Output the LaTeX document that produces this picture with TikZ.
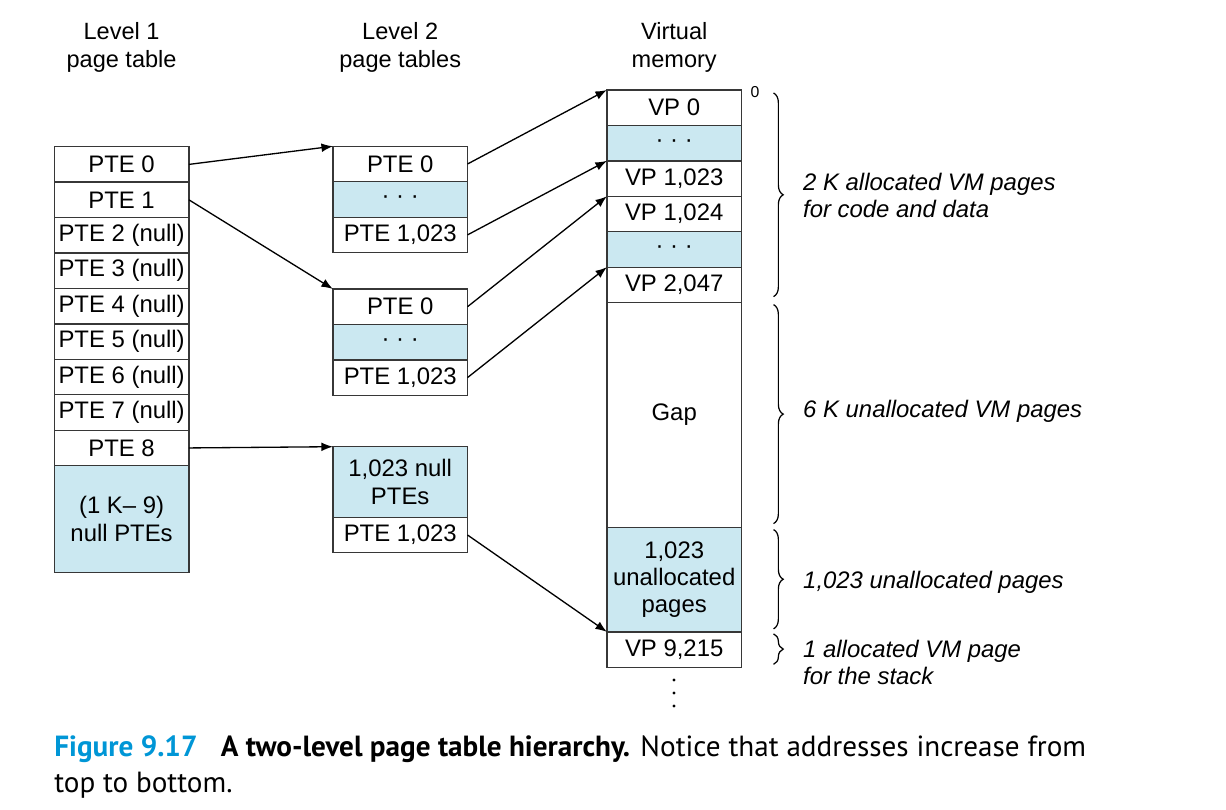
\documentclass[tikz,border=0pt]{standalone}
\usepackage{fontspec}
\setmainfont{Liberation Sans}
\newfontfamily\capfont{PT Sans}
\usetikzlibrary{positioning, calc, arrows.meta, decorations.pathreplacing}
\definecolor{cellblue}{RGB}{203, 232, 241}
\definecolor{figblue}{RGB}{0, 150, 214}
\definecolor{edgegray}{RGB}{55, 55, 55}

\begin{document}
\begin{tikzpicture}[x=0.02cm, y=-0.02cm,
  cell/.style={draw=edgegray, line width=0.75pt, fill=white, minimum width=2.694cm, minimum height=0.709cm, inner sep=0pt, outer sep=0pt, align=center, font=\fontsize{13.6}{15.5}\selectfont},
  shaded/.style={cell, fill=cellblue},
  head/.style={align=center, font=\fontsize{13.4}{15.9}\selectfont},
  note/.style={anchor=west, align=left, font=\fontsize{13.6}{15.5}\selectfont\itshape},
  ptr/.style={-{Latex[length=6.5pt, width=5pt]}, line width=0.75pt},
  brc/.style={decorate, decoration={brace, amplitude=5.5pt}, line width=0.7pt}]
\useasboundingbox (0,0) rectangle (1226,810);

% column headings
\node[head] (h1) at (121.6,47) {Level 1\\page table};
\node[head] (h2) at (400.2,47) {Level 2\\page tables};
\node[head] (h3) at (674.2,47) {Virtual\\memory};

% level 1 page table
\node[cell] (l1r0) at (121.6,164.4) {PTE 0};
\node[cell, below=0pt of l1r0] (l1r1) {PTE 1};
\node[cell, below=0pt of l1r1] (l1r2) {PTE 2 (null)};
\node[cell, below=0pt of l1r2] (l1r3) {PTE 3 (null)};
\node[cell, below=0pt of l1r3] (l1r4) {PTE 4 (null)};
\node[cell, below=0pt of l1r4] (l1r5) {PTE 5 (null)};
\node[cell, below=0pt of l1r5] (l1r6) {PTE 6 (null)};
\node[cell, below=0pt of l1r6] (l1r7) {PTE 7 (null)};
\node[cell, below=0pt of l1r7] (l1r8) {PTE 8};
\node[shaded, below=0pt of l1r8, minimum height=2.132cm] (l1rest) {(1 K– 9)\\null PTEs};

% level 2 page tables
\node[cell] (l2a0) at (400.2,164.0) {PTE 0};
\node[shaded, below=0pt of l2a0] (l2a1) {· · ·};
\node[cell, below=0pt of l2a1] (l2a2) {PTE 1,023};

\node[cell] (l2b0) at (400.2,306.7) {PTE 0};
\node[shaded, below=0pt of l2b0] (l2b1) {· · ·};
\node[cell, below=0pt of l2b1] (l2b2) {PTE 1,023};

\node[shaded, minimum height=1.412cm] (l2c0) at (400.2,482) {1,023 null\\PTEs};
\node[cell, below=0pt of l2c0] (l2c1) {PTE 1,023};

% virtual memory
\node[cell] (vm0) at (674.2,107.7) {VP 0};
\node[shaded, below=0pt of vm0] (vm1) {· · ·};
\node[cell, below=0pt of vm1] (vm2) {VP 1,023};
\node[cell, below=0pt of vm2] (vm3) {VP 1,024};
\node[shaded, below=0pt of vm3] (vm4) {· · ·};
\node[cell, below=0pt of vm4] (vm5) {VP 2,047};
\node[cell, below=0pt of vm5, minimum height=4.5cm] (gap) {Gap};
\node[shaded, below=0pt of gap, minimum height=2.086cm] (unalloc) {1,023\\unallocated\\pages};
\node[cell, below=0pt of unalloc] (vm8) {VP 9,215};
\foreach \y in {680,693,706}
  \fill (674,\y) circle (0.9pt);
\node[font=\fontsize{9}{10}\selectfont] (zero) at (755,92) {0};

% pointers
\draw[ptr] (l1r0.east) -- (l2a0.north west);
\draw[ptr] (l1r1.east) -- (l2b0.north west);
\draw[ptr] (l1r8.east) -- (l2c0.north west);
\draw[ptr] (l2a0.east) -- (vm0.north west);
\draw[ptr] (l2a2.east) -- (vm2.north west);
\draw[ptr] (l2b0.east) -- (vm3.north west);
\draw[ptr] (l2b2.east) -- (vm5.north west);
\draw[ptr] (l2c1.east) -- (vm8.north west);

% braces and notes
\draw[brc] ($(vm0.north east)+(32,3)$) -- ($(vm5.south east)+(32,-6)$);
\draw[brc] ($(gap.north east)+(32,2)$) -- ($(gap.south east)+(32,-4)$);
\draw[brc] ($(unalloc.north east)+(32,2)$) -- ($(unalloc.south east)+(32,-3)$);
\draw[brc] ($(vm8.north east)+(32,2)$) -- ($(vm8.south east)+(32,-3)$);
\node[note] (ncode) at (797,195.5) {2 K allocated VM pages\\for code and data};
\node[note] (ngap) at (797,411) {6 K unallocated VM pages};
\node[note] (nunal) at (797,582) {1,023 unallocated pages};
\node[note] (nstack) at (797,662.5) {1 allocated VM page\\for the stack};

% caption
\node[anchor=north west, align=left, inner sep=0pt, font=\capfont\fontsize{16.6}{20.6}\selectfont] (caption) at (54,735)
  {\textcolor{figblue}{\textbf{Figure 9.17}}\hspace{0.8em}\textbf{A two-level page table hierarchy.} Notice that addresses increase from\\top to bottom.};
\end{tikzpicture}
\end{document}
